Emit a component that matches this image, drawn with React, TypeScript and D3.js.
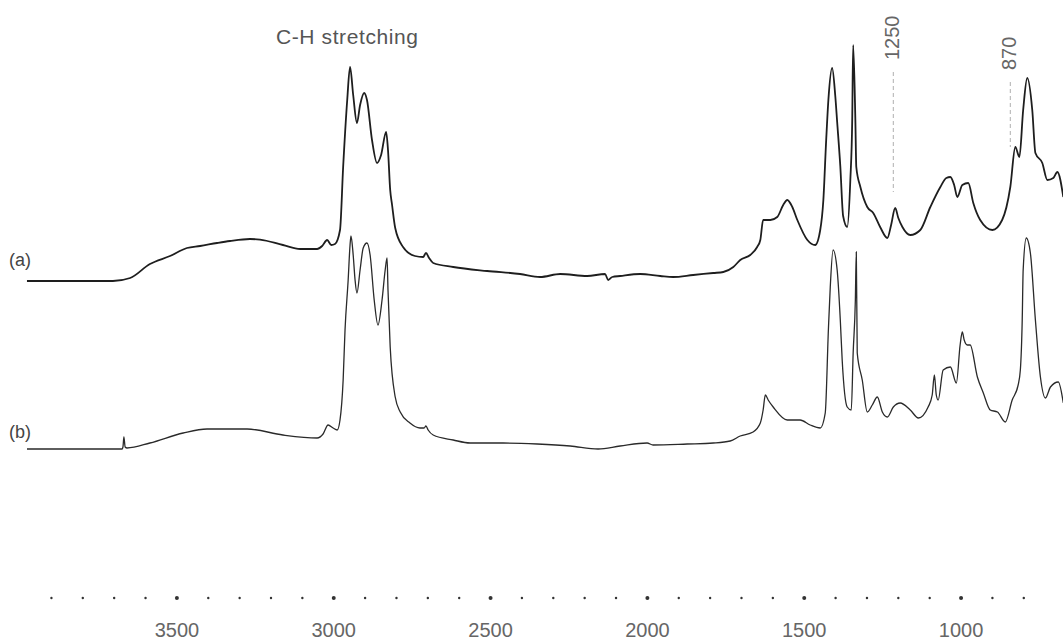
import React from "react";
import * as d3 from "d3";

// wavenumber (cm-1) / relative absorbance
const traceA: [number, number][] = [
  [3978, 42.25], [3704, 42.25], [3649, 43], [3586, 46.5], [3522, 48.5], [3468, 50.5],
  [3426, 51], [3372, 51.75], [3331, 52.25], [3267, 52.75], [3235, 52.6], [3162, 51.25],
  [3107, 50.25], [3053, 50.25], [3037, 51], [3021, 52.5], [3008, 51.25], [2996, 51.5],
  [2980, 55], [2970, 70.75], [2957, 87.5], [2948, 95.75], [2938, 88.75], [2926, 81.75],
  [2916, 86.25], [2903, 89.25], [2894, 87.5], [2878, 77.5], [2862, 71.75], [2849, 73.75],
  [2833, 79.5], [2827, 75], [2820, 65], [2814, 61.25], [2804, 55.5], [2779, 50.75],
  [2741, 48.5], [2715, 48.25], [2706, 49.25], [2696, 48], [2683, 46.75], [2619, 45.75],
  [2511, 44.75], [2406, 44], [2342, 43.25], [2278, 44], [2192, 43.5], [2135, 44],
  [2125, 42.5], [2112, 43.25], [2087, 43.5], [2023, 44], [1959, 43.5], [1918, 43.25],
  [1854, 43.75], [1790, 44.25], [1758, 44.5], [1726, 45.75], [1704, 47.5], [1672, 48.75],
  [1650, 50.75], [1640, 52.5], [1631, 57.5], [1608, 57.5], [1586, 58.25], [1567, 61.25],
  [1554, 62.5], [1538, 60.75], [1522, 57.5], [1490, 52.5], [1465, 51.25], [1449, 55],
  [1439, 62.5], [1430, 77.5], [1423, 87.5], [1411, 95.5], [1401, 88.5], [1395, 82],
  [1385, 71], [1376, 58.5], [1363, 55.75], [1353, 67.5], [1347, 82.5], [1344, 101.25],
  [1337, 82.5], [1334, 70.75], [1321, 65.75], [1299, 60.75], [1280, 59.25], [1258, 55.75],
  [1235, 53], [1223, 56.25], [1210, 60.5], [1200, 58], [1187, 55.75], [1162, 53.75],
  [1130, 55], [1098, 60.75], [1066, 65.75], [1047, 68], [1034, 68.25], [1022, 66.25],
  [1012, 63.25], [996, 66.25], [977, 66.75], [961, 61.75], [939, 57.5], [900, 55],
  [869, 57.5], [843, 65.75], [827, 75.75], [814, 73.25], [802, 85], [789, 93],
  [773, 85], [763, 74.25], [741, 71.75], [725, 67.5], [706, 68], [693, 69.5], [674, 63.25],
];

const traceB: [number, number][] = [
  [3978, 0.25], [3675, 0.25], [3672, 0.75], [3669, 3.25], [3665, 0.75], [3659, 0.5],
  [3586, 1.75], [3480, 4.25], [3404, 5.25], [3276, 5.25], [3162, 3.75], [3053, 3],
  [3034, 4], [3018, 6.25], [3002, 5.5], [2989, 5], [2980, 7.5], [2970, 17.5],
  [2964, 30], [2954, 42.5], [2948, 51.25], [2945, 53.5], [2938, 48.75], [2932, 42.5],
  [2926, 39.25], [2916, 45], [2906, 50.5], [2894, 51.75], [2884, 48.75], [2871, 37.5],
  [2859, 31.25], [2846, 37.5], [2836, 45], [2830, 48], [2827, 40], [2820, 25.75],
  [2804, 13.25], [2788, 9.5], [2757, 6.75], [2725, 5.5], [2712, 5.5], [2706, 6],
  [2699, 5], [2683, 3.75], [2619, 2.5], [2565, 1.75], [2460, 1.75], [2351, 1.5],
  [2246, 1], [2157, 0.25], [2087, 1], [2001, 1.75], [1982, 1.25], [1873, 1.5],
  [1790, 1.75], [1736, 2.25], [1704, 3.5], [1663, 4.5], [1640, 6.75], [1631, 10],
  [1624, 13.75], [1615, 12.5], [1599, 10.75], [1554, 7.5], [1513, 7.5], [1481, 6.25],
  [1449, 5.5], [1433, 9.25], [1423, 30], [1417, 40.75], [1408, 50], [1395, 45],
  [1385, 32.5], [1379, 22.5], [1363, 10.75], [1350, 10], [1344, 24.25], [1337, 37.5],
  [1334, 49.5], [1331, 24.25], [1315, 17.5], [1299, 9.5], [1283, 11.25], [1267, 13.25],
  [1251, 9.5], [1235, 8.25], [1216, 10.75], [1194, 11.75], [1162, 10], [1136, 8],
  [1105, 10.75], [1092, 13.75], [1085, 18.75], [1079, 13.75], [1073, 12.5], [1057, 20],
  [1034, 20.75], [1015, 16.75], [1003, 26.25], [996, 29.5], [990, 27.5], [980, 26.25],
  [971, 26.25], [948, 18.25], [929, 14.25], [907, 10], [884, 9.5], [859, 7],
  [837, 12.5], [818, 16.25], [811, 20], [805, 32.5], [802, 45], [792, 53],
  [779, 49.25], [763, 32.5], [747, 18.25], [731, 13], [715, 15.75], [690, 17], [674, 11.75],
];

const traceLabels = ["(a)", "(b)"];
const tickLabels = [3500, 3000, 2500, 2000, 1500, 1000];
const minorTicks = d3.range(3900, 700, -100);
const annotLabels = ["1250", "870"];
const annotPositions = [1216, 843];

const W = 1063;
const H = 643;

export default function App() {
  const x = d3.scaleLinear().domain([4064, 675]).range([0, W]);
  const y = d3.scaleLinear().domain([0, 100]).range([450, 50]);

  const line = d3
    .line<[number, number]>()
    .x((d) => x(d[0]))
    .y((d) => y(d[1]))
    .curve(d3.curveMonotoneX);

  const font = "'Liberation Sans', Arial, sans-serif";

  return (
    <svg
      width={W}
      height={H}
      style={{ position: "absolute", left: 0, top: 0, background: "#fff" }}
    >
      {/* spectra */}
      <path d={line(traceA) || ""} fill="none" stroke="#1e1e1e" strokeWidth={1.8} />
      <path d={line(traceB) || ""} fill="none" stroke="#2a2a2a" strokeWidth={1.3} />

      {/* trace labels */}
      <text x={9} y={266} fontFamily={font} fontSize={18} fill="#444">
        {traceLabels[0]}
      </text>
      <text x={9} y={438} fontFamily={font} fontSize={18} fill="#444">
        {traceLabels[1]}
      </text>

      {/* band title */}
      <text x={276} y={44} fontFamily={font} fontSize={21} letterSpacing={0.6} fill="#555">
        C-H stretching
      </text>

      {/* annotation markers */}
      {annotLabels.map((lab, i) => {
        const px = x(annotPositions[i]);
        const top = i === 0 ? 72 : 82;
        const bottom = i === 0 ? 192 : 147;
        const textBottom = i === 0 ? 60 : 70;
        return (
          <g key={lab}>
            <line
              x1={px}
              x2={px}
              y1={top}
              y2={bottom}
              stroke="#b0b0b0"
              strokeWidth={1}
              strokeDasharray="4,3"
            />
            <text
              transform={`translate(${px - 1},${textBottom}) rotate(-90)`}
              fontFamily={font}
              fontSize={20}
              fill="#666"
              dominantBaseline="central"
            >
              {lab}
            </text>
          </g>
        );
      })}

      {/* dotted x axis */}
      {minorTicks.map((t) => (
        <circle
          key={t}
          cx={x(t)}
          cy={598}
          r={t % 500 === 0 ? 2 : 1.2}
          fill="#333"
        />
      ))}
      {tickLabels.map((t) => (
        <text
          key={t}
          x={x(t)}
          y={637}
          textAnchor="middle"
          fontFamily={font}
          fontSize={20}
          fill="#666"
        >
          {t}
        </text>
      ))}
    </svg>
  );
}
